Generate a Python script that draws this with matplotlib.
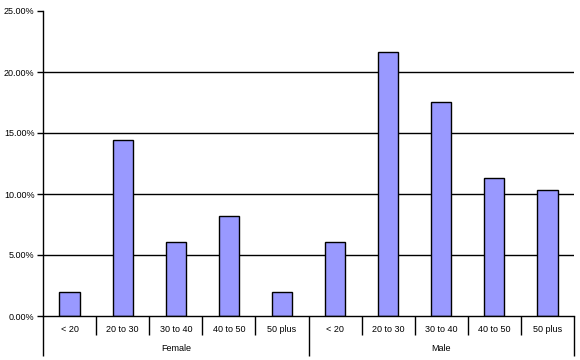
import numpy as np
import matplotlib
matplotlib.use('Agg')
import matplotlib.pyplot as plt
from matplotlib.ticker import FuncFormatter

groups = ['Female', 'Male']
ages = ['< 20', '20 to 30', '30 to 40', '40 to 50', '50 plus']
female = [2.0, 14.4, 6.1, 8.2, 2.0]
male = [6.1, 21.6, 17.5, 11.3, 10.3]
yticks = [0, 5, 10, 15, 20, 25]

values = female + male
labels = ages * len(groups)
x = np.arange(len(values))

plt.rcParams['font.family'] = ['Liberation Sans', 'DejaVu Sans']

fig = plt.figure(figsize=(5.8, 3.6), dpi=100)
ax = fig.add_axes([43/580, 1 - 316/360, 531/580, 305/360])

for t in yticks[1:-1]:
    ax.axhline(t, color='black', lw=1, zorder=1)
ax.bar(x, values, width=0.38, color='#9999FF', edgecolor='black', lw=1, zorder=2)

ax.set_xlim(-0.5, len(values) - 0.5)
ax.set_ylim(0, 25)
ax.set_yticks(yticks)
ax.yaxis.set_major_formatter(FuncFormatter(lambda v, p: '%.2f%%' % v))
ax.tick_params(axis='y', labelsize=6.5, length=4, width=1, color='black', pad=2)

for s in ['top', 'right']:
    ax.spines[s].set_visible(False)
for s in ['left', 'bottom']:
    ax.spines[s].set_linewidth(1)

# two-level category axis
ax.set_xticks(np.arange(-0.5, len(values), 5))
ax.set_xticks(np.arange(-0.5, len(values)), minor=True)
ax.set_xticklabels([])
ax.tick_params(axis='x', which='major', length=28.5, width=1, direction='out')
ax.tick_params(axis='x', which='minor', length=14, width=1, direction='out')

for xi, lab in zip(x, labels):
    ax.annotate(lab, (xi, 0), xytext=(0, -9.5), textcoords='offset points',
                ha='center', va='center', fontsize=6.5, annotation_clip=False)
for gi, g in enumerate(groups):
    ax.annotate(g, (gi * 5 + 2, 0), xytext=(0, -23.5), textcoords='offset points',
                ha='center', va='center', fontsize=6.5, annotation_clip=False)

fig.savefig('out.png', dpi=100)
